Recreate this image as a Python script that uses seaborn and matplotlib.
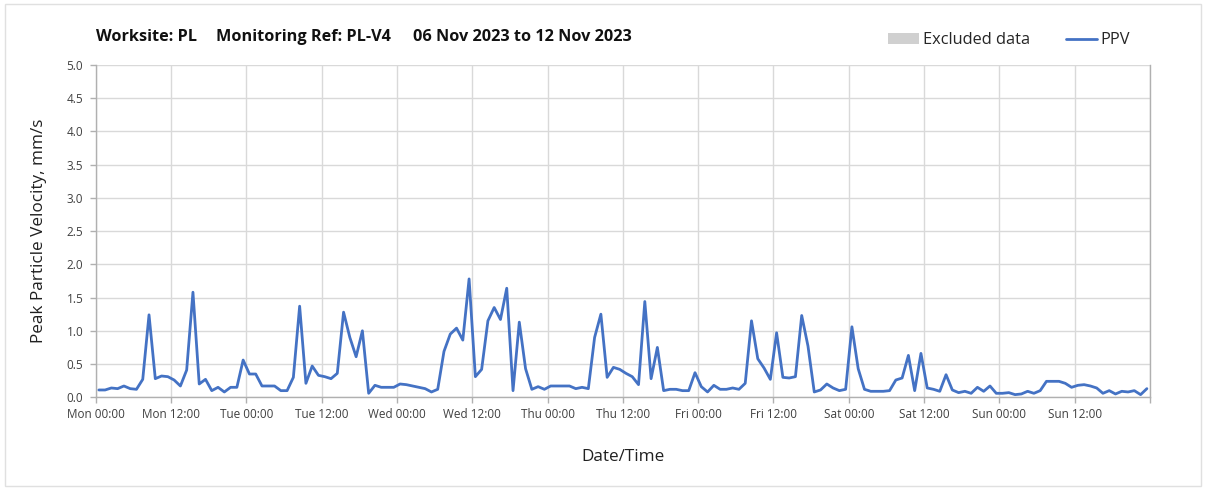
import matplotlib
matplotlib.use("Agg")
import matplotlib.pyplot as plt
from matplotlib.patches import Patch, Rectangle
from matplotlib.lines import Line2D
from matplotlib.ticker import FormatStrFormatter
import seaborn as sns
import pandas as pd

# hourly PPV readings, Mon 06 Nov 2023 00:30 onwards (mm/s)
ppv = [
    0.11, 0.11, 0.14, 0.13, 0.17, 0.13, 0.12, 0.27, 1.24, 0.28, 0.32, 0.31,
    0.26, 0.17, 0.41, 1.58, 0.20, 0.27, 0.10, 0.15, 0.08, 0.15, 0.15, 0.56,
    0.35, 0.35, 0.17, 0.17, 0.17, 0.10, 0.10, 0.30, 1.37, 0.21, 0.47, 0.33,
    0.31, 0.28, 0.36, 1.28, 0.90, 0.61, 1.00, 0.06, 0.18, 0.15, 0.15, 0.15,
    0.20, 0.19, 0.17, 0.15, 0.13, 0.08, 0.12, 0.69, 0.95, 1.04, 0.86, 1.78,
    0.31, 0.42, 1.15, 1.35, 1.17, 1.64, 0.10, 1.13, 0.43, 0.12, 0.16, 0.12,
    0.17, 0.17, 0.17, 0.17, 0.13, 0.15, 0.13, 0.90, 1.25, 0.30, 0.45, 0.42,
    0.36, 0.31, 0.19, 1.44, 0.28, 0.75, 0.10, 0.12, 0.12, 0.10, 0.10, 0.37,
    0.16, 0.08, 0.18, 0.12, 0.12, 0.14, 0.12, 0.21, 1.15, 0.58, 0.44, 0.27,
    0.97, 0.30, 0.29, 0.31, 1.23, 0.77, 0.08, 0.11, 0.20, 0.14, 0.10, 0.12,
    1.06, 0.43, 0.12, 0.09, 0.09, 0.09, 0.10, 0.26, 0.29, 0.63, 0.10, 0.66,
    0.14, 0.12, 0.09, 0.34, 0.11, 0.07, 0.09, 0.06, 0.15, 0.09, 0.17, 0.06,
    0.06, 0.07, 0.04, 0.05, 0.09, 0.06, 0.10, 0.24, 0.24, 0.24, 0.21, 0.15,
    0.18, 0.19, 0.17, 0.14, 0.06, 0.10, 0.05, 0.09, 0.08, 0.10, 0.04, 0.13,
]
start = "2023-11-06 00:30"
x_start = pd.Timestamp("2023-11-06 00:00")
x_end = pd.Timestamp("2023-11-13 00:00")
y_ticks = [0.0, 0.5, 1.0, 1.5, 2.0, 2.5, 3.0, 3.5, 4.0, 4.5, 5.0]
title_parts = ["Worksite: PL", "Monitoring Ref: PL-V4", "06 Nov 2023 to 12 Nov 2023"]

df = pd.DataFrame({
    "time": pd.date_range(start, periods=len(ppv), freq="h"),
    "PPV": ppv,
})

sns.set_style("white")
plt.rcParams["font.family"] = ["Open Sans", "DejaVu Sans"]

fig = plt.figure(figsize=(12.08, 4.92), dpi=100)
ax = fig.add_axes([0.0792, 0.1925, 0.8728, 0.6758])

blue = "#4472C4"
sns.lineplot(data=df, x="time", y="PPV", color=blue, linewidth=2.0, ax=ax)

ax.set_xlim(x_start, x_end)
ax.set_ylim(0, 5)
ax.set_yticks(y_ticks)
ax.yaxis.set_major_formatter(FormatStrFormatter("%.1f"))

ticks = pd.date_range(x_start, x_end, freq="12h")
ax.set_xticks(ticks)
labels = [t.strftime("%a %H:%M") for t in ticks[:-1]] + [""]
ax.set_xticklabels(labels)

ax.grid(True, color="#d9d9d9", linewidth=1.0)
ax.set_axisbelow(True)
for side in ["left", "bottom", "right"]:
    ax.spines[side].set_color("#b0b0b0")
    ax.spines[side].set_linewidth(1.0)
ax.spines["top"].set_visible(False)
ax.tick_params(axis="both", length=4, width=1, color="#b0b0b0",
               labelsize=8.5, labelcolor="#404040")
ax.tick_params(axis="x", bottom=True, pad=4)
ax.tick_params(axis="y", left=True, pad=5)

ax.set_xlabel("Date/Time", fontsize=12.3, color="#202020", labelpad=20)
ax.set_ylabel("Peak Particle Velocity, mm/s", fontsize=12.3, color="#202020", labelpad=14)

for x, part in zip([0.0795, 0.1788, 0.3419], title_parts):
    fig.text(x, 0.925, part, fontsize=11.7, fontweight="bold",
             va="center", ha="left", color="#111111")

handles = [Patch(facecolor="#d0d0d0", edgecolor="none"),
           Line2D([0], [0], color=blue, linewidth=2.0)]
fig.legend(handles, ["Excluded data", "PPV"], loc="center left",
           bbox_to_anchor=(0.723, 0.918), ncol=2, frameon=False,
           fontsize=11.8, handlelength=1.9, handletextpad=0.2, columnspacing=2.2)

fig.patches.append(Rectangle((0.004, 0.012), 0.99, 0.98, transform=fig.transFigure,
                             fill=False, edgecolor="#e0e0e0", linewidth=1.0))

fig.savefig("out.png", dpi=100)
